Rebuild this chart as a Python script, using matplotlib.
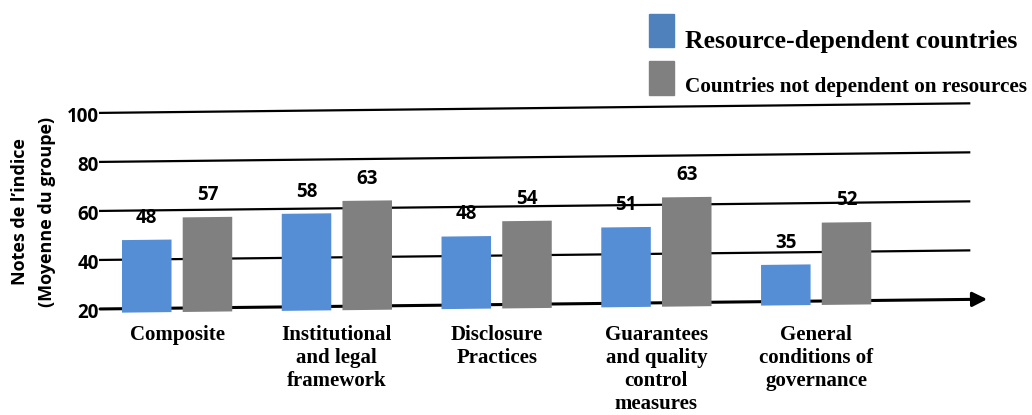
import numpy as np
import matplotlib
matplotlib.use('Agg')
import matplotlib.pyplot as plt
from matplotlib.patches import Rectangle
from matplotlib.transforms import Affine2D

# data
categories = ['Composite', 'Institutional\nand legal\nframework', 'Disclosure\nPractices',
              'Guarantees\nand quality\ncontrol\nmeasures', 'General\nconditions of\ngovernance']
resource_dep = [48, 58, 48, 51, 35]
not_dep = [57, 63, 54, 63, 52]
yticks = [20, 40, 60, 80, 100]
series_names = ['Resource-dependent countries', 'Countries not dependent on resources']

blue = '#558ED5'
blue_leg = '#4F81BD'
grey = '#808080'
sans = 'Open Sans'
serif = 'Liberation Serif'

fig = plt.figure(figsize=(10.32, 4.15), dpi=100)
ax = fig.add_axes([0.097, 0.2434, 0.8595, 0.4819])

x = np.arange(len(categories))
x_lo, x_hi, x_grid_end = -0.482, 5.07, 4.958
y_lo = 18.4
ax.set_xlim(x_lo, x_hi)
ax.set_ylim(y_lo, 100)

# the whole plot is slightly tilted upward to the right
skew = ax.transData + Affine2D().skew(0, np.arctan(0.011))

w = 0.31
off = 0.19
b1 = ax.bar(x - off, np.array(resource_dep) - y_lo, w, bottom=y_lo, color=blue, zorder=3)
b2 = ax.bar(x + off, np.array(not_dep) - y_lo, w, bottom=y_lo, color=grey, zorder=3)
for p in list(b1) + list(b2):
    p.set_transform(skew)

# tilted grid lines
for v in yticks[1:]:
    ax.plot([x_lo, x_grid_end], [v, v], color='black', lw=1.6, transform=skew,
            clip_on=False, zorder=2)
# base line with arrow
ax.annotate('', xy=(x_hi, yticks[0]), xytext=(x_lo, yticks[0]), xycoords=skew, textcoords=skew,
            arrowprops=dict(arrowstyle='-|>', lw=2.2, color='black', mutation_scale=22,
                            shrinkA=0, shrinkB=0), zorder=2, annotation_clip=False)

# value labels
for xi, v in zip(x - off, resource_dep):
    ax.text(xi, v + 9, str(v), transform=skew, ha='center', va='center',
            fontsize=13.5, fontweight='bold', family=sans, zorder=4)
for xi, v in zip(x + off, not_dep):
    ax.text(xi, v + 9, str(v), transform=skew, ha='center', va='center',
            fontsize=13.5, fontweight='bold', family=sans, zorder=4)

ax.set_yticks(yticks)
ax.set_yticklabels([str(t) for t in yticks], fontsize=13.5, fontweight='bold', family=sans)
ax.set_xticks(x)
ax.set_xticklabels(categories, fontsize=15, fontweight='bold', family=serif, linespacing=1.2,
                   va='top')
ax.tick_params(axis='both', length=0)
ax.tick_params(axis='y', pad=1)
ax.tick_params(axis='x', pad=8)
for s in ax.spines.values():
    s.set_visible(False)

# y label (two lines)
fig.text(20 / 1032, 1 - 212 / 415, 'Notes de l\u2019indice', rotation=90, ha='center', va='center',
         fontsize=13, fontweight='bold', family=sans)
fig.text(47 / 1032, 1 - 212 / 415, '(Moyenne du groupe)', rotation=90, ha='center', va='center',
         fontsize=13, fontweight='bold', family=sans)

# legend
fig.patches.append(Rectangle((649 / 1032, 1 - 47 / 415), 25 / 1032, 33 / 415,
                             transform=fig.transFigure, color=blue_leg))
fig.patches.append(Rectangle((649 / 1032, 1 - 95 / 415), 25 / 1032, 34 / 415,
                             transform=fig.transFigure, color=grey))
fig.text(685 / 1032, 1 - 48 / 415, series_names[0], fontsize=18.5, fontweight='bold',
         family=serif, va='baseline')
fig.text(685 / 1032, 1 - 92 / 415, series_names[1], fontsize=15.3, fontweight='bold',
         family=serif, va='baseline')

fig.savefig('out.png', dpi=100)
